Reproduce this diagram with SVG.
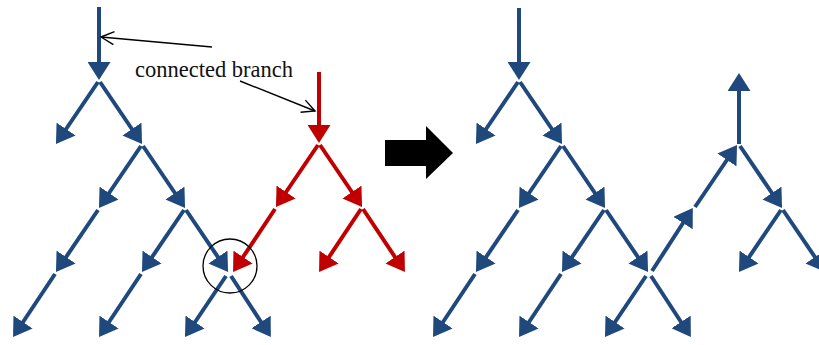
<svg xmlns="http://www.w3.org/2000/svg" width="819" height="345" viewBox="0 0 819 345">
  <style>
    .blue { stroke: #1F497D; stroke-width: 4; fill: none; marker-end: url(#headBlue); }
    .red { stroke: #C00000; stroke-width: 4; fill: none; marker-end: url(#headRed); }
    .pointer { stroke: #000; stroke-width: 1.4; fill: none; marker-end: url(#openHead); }
    .label { font-family: "Liberation Serif", "Times New Roman", serif; font-size: 22.5px; fill: #111; }
  </style>
  <defs>
    <!-- filled triangle heads; tip sits 12px past the end of the shaft -->
    <marker id="headBlue" markerUnits="userSpaceOnUse" viewBox="0 0 18 23" markerWidth="18" markerHeight="23" refX="6" refY="11.5" orient="auto">
      <path d="M0,0 L18,11.5 L0,23 z" fill="#1F497D"/>
    </marker>
    <marker id="headRed" markerUnits="userSpaceOnUse" viewBox="0 0 18 23" markerWidth="18" markerHeight="23" refX="6" refY="11.5" orient="auto">
      <path d="M0,0 L18,11.5 L0,23 z" fill="#C00000"/>
    </marker>
    <marker id="openHead" markerUnits="userSpaceOnUse" viewBox="-1 -1 16 16" markerWidth="16" markerHeight="16" refX="13" refY="6.5" orient="auto">
      <path d="M0,0 L13,6.5 L0,13" fill="none" stroke="#000" stroke-width="1.4"/>
    </marker>
  </defs>

  <!-- original tree -->
  <g id="tree-left">
    <line class="blue" x1="99" y1="7" x2="99" y2="68"/>
    <line class="blue" x1="98" y1="82" x2="62.7" y2="134"/>
    <line class="blue" x1="100" y1="82" x2="135.3" y2="134"/>
    <line class="blue" x1="141" y1="146" x2="105.7" y2="198"/>
    <line class="blue" x1="143" y1="146" x2="178.3" y2="198"/>
    <line class="blue" x1="98" y1="210" x2="62.7" y2="262"/>
    <line class="blue" x1="184" y1="210" x2="148.7" y2="262"/>
    <line class="blue" x1="186" y1="210" x2="221.3" y2="262"/>
    <line class="blue" x1="55" y1="274" x2="19.7" y2="327"/>
    <line class="blue" x1="141" y1="274" x2="105.7" y2="327"/>
    <line class="blue" x1="226" y1="276" x2="191.7" y2="327"/>
    <line class="blue" x1="231" y1="276" x2="264.3" y2="327"/>
  </g>

  <!-- branch to be connected -->
  <g id="branch-red">
    <line class="red" x1="319" y1="72" x2="319" y2="131"/>
    <line class="red" x1="318" y1="145" x2="282.7" y2="197"/>
    <line class="red" x1="320" y1="145" x2="355.3" y2="197"/>
    <line class="red" x1="275" y1="209" x2="239.7" y2="262"/>
    <line class="red" x1="361" y1="209" x2="325.7" y2="262"/>
    <line class="red" x1="363" y1="209" x2="398.3" y2="262"/>
  </g>

  <!-- junction marker -->
  <g id="junction">
    <circle cx="230" cy="266" r="27" fill="none" stroke="#000" stroke-width="1.3"/>
  </g>

  <!-- label with its two pointers -->
  <g id="label">
    <text class="label" x="135" y="77">connected branch</text>
  </g>
  <g id="connectors">
    <line class="pointer" x1="212" y1="47" x2="101" y2="37"/>
    <line class="pointer" x1="240" y1="81" x2="315" y2="111"/>
  </g>

  <!-- transformation arrow -->
  <g id="transform-arrow">
    <polygon points="385,140 426,140 426,126 453,153 426,179 426,166 385,166" fill="#000"/>
  </g>

  <!-- merged tree -->
  <g id="tree-right">
    <line class="blue" x1="519" y1="8" x2="519" y2="68"/>
    <line class="blue" x1="518" y1="82" x2="482.7" y2="134"/>
    <line class="blue" x1="520" y1="82" x2="555.3" y2="134"/>
    <line class="blue" x1="561" y1="146" x2="525.7" y2="198"/>
    <line class="blue" x1="563" y1="146" x2="598.3" y2="198"/>
    <line class="blue" x1="518" y1="210" x2="482.7" y2="262"/>
    <line class="blue" x1="604" y1="210" x2="568.7" y2="262"/>
    <line class="blue" x1="606" y1="210" x2="641.3" y2="262"/>
    <line class="blue" x1="475" y1="274" x2="439.7" y2="327"/>
    <line class="blue" x1="561" y1="274" x2="525.7" y2="327"/>
    <line class="blue" x1="646" y1="276" x2="611.7" y2="327"/>
    <line class="blue" x1="651" y1="276" x2="684.3" y2="327"/>
    <!-- re-rooted branch now pointing upward -->
    <line class="blue" x1="652" y1="271" x2="686.3" y2="218"/>
    <line class="blue" x1="695" y1="207" x2="730.3" y2="155"/>
    <line class="blue" x1="739" y1="144" x2="739" y2="85"/>
    <line class="blue" x1="740" y1="146" x2="775.3" y2="198"/>
    <line class="blue" x1="781" y1="210" x2="745.7" y2="262"/>
    <line class="blue" x1="783" y1="210" x2="818.3" y2="262"/>
  </g>
</svg>
